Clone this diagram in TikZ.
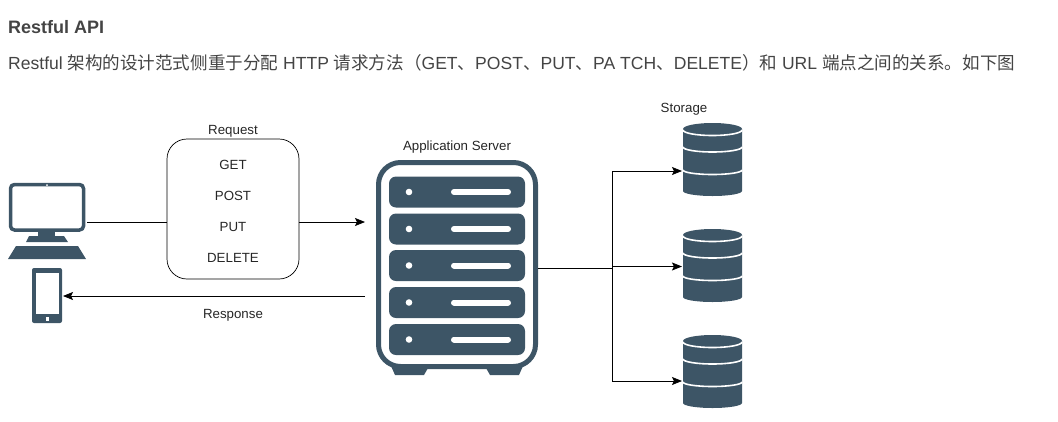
\documentclass[tikz,border=0pt]{standalone}
\usepackage{fontspec}
\setmainfont{Liberation Sans}
\newfontfamily\cjk{Noto Sans CJK SC}
\usetikzlibrary{arrows.meta, calc}
\definecolor{icon}{HTML}{3D5566}
\definecolor{bodytext}{HTML}{444444}
\tikzset{
    my-label/.style={
        font=\fontsize{13.3}{15}\selectfont, text=black!85, inner sep=0pt, yshift=-1pt
    },
    my-box/.style={
        draw, rounded corners=20pt, minimum width=132pt, minimum height=140pt, line width=.7pt
    },
    my-area/.style={
        inner sep=0pt, outer sep=1pt
    },
    my-rack/.style={
        fill=icon, rounded corners=7pt, minimum width=136pt, minimum height=31pt, inner sep=0pt
    },
    my-wire/.style={
        line width=.8pt
    },
    my-arrow/.style={
        my-wire, -{Stealth[length=10pt,width=8pt,inset=2pt]}
    },
}

\begin{document}
\begin{tikzpicture}[x=1pt,y=-1pt]

        \useasboundingbox (0,0) rectangle (1058,421);

        % HEADER
        \node[anchor=west, inner sep=0pt, text=bodytext, font=\fontsize{18}{20}\selectfont\bfseries] (TITLE) at (8,27) {Restful API};
        \node[anchor=west, inner sep=0pt, text=bodytext, font=\fontsize{17.55}{20}\selectfont] (INTRO) at (8,63)
            {Restful {\cjk 架构的设计范式侧重于分配} HTTP {\cjk 请求方法（}GET{\cjk 、}POST{\cjk 、}PUT{\cjk 、}PA TCH{\cjk 、}DELETE{\cjk ）和} URL {\cjk 端点之间的关系。如下图}};

        % CLIENT ICONS
        \node[my-area, minimum width=78pt, minimum height=76pt] (PC)    at (47,222)   {};
        \node[my-area, minimum width=30pt, minimum height=55pt] (PHONE) at (47,296)   {};
        \draw[icon, line width=3.5pt, rounded corners=4pt] (10.5,184.5) rectangle (83.5,230);
        \fill[icon] (38,231) rectangle (55,237);
        \fill[icon] (29,236) -- (64,236) -- (68,242) -- (26,242) -- cycle;
        \fill[icon] (16,246) -- (78,246) -- (86,259) -- (8,259) -- cycle;
        \fill[white] (47,185) circle (1pt);
        \fill[icon, rounded corners=2pt] (32,268) rectangle (62,323);
        \fill[white] (36,273) rectangle (59,314);
        \fill[white] (45.5,317) rectangle (49,320.5);

        % REQUEST BOX
        \node[my-box] (REQ) at (233,209) {};
        \node[my-label] (REQLABEL) at (233,130.5) {Request};
        \node[my-label] (GET)      at (233,164) {GET};
        \node[my-label] (POST)     at (233,195) {POST};
        \node[my-label] (PUT)      at (233,226) {PUT};
        \node[my-label] (DELETE)   at (233,257) {DELETE};
        \node[my-label] (RESP)     at (233,314) {Response};
        \coordinate[] (REQIN)  at ($(REQ.west) + (0,13)$);
        \coordinate[] (REQOUT) at ($(REQ.east) + (0,13)$);

        % SERVER
        \node[my-label] (SERVERLABEL) at (457,146.5) {Application Server};
        \node[draw=icon, line width=5pt, rounded corners=22pt, minimum width=157pt, minimum height=204pt, inner sep=0pt] (SERVER) at (457,264.5) {};
        \fill[icon] (391,366) -- (424,366) -- (428,368) -- (424,375) -- (395,375) -- cycle;
        \fill[icon] (523,366) -- (490,366) -- (486,368) -- (490,375) -- (519,375) -- cycle;
        \foreach \i/\y in {1/192, 2/229, 3/265.5, 4/302.5, 5/339.5} {
            \node[my-rack] (RACK\i) at (457,\y) {};
            \fill[white] (409,\y) circle (3.3pt);
            \draw[white, line width=6pt, line cap=round] (454,\y) -- (508,\y);
        }
        \coordinate[] (SERVERIN)  at (365,222);
        \coordinate[] (SERVEROUT) at (365,296);
        \coordinate[] (SERVERBUS) at (612,268);

        % STORAGE
        \node[my-label] (STORELABEL) at (684,108) {Storage};
        \foreach \i/\y in {1/123, 2/229, 3/335} {
            \node[my-area, minimum width=59pt, minimum height=73pt] (DB\i) at (712.5,\y+36.5) {};
            \begin{scope}[shift={(712.5,\y)}]
                \fill[icon] (-29.5,6) arc[x radius=29.5pt, y radius=6pt, start angle=180, end angle=0]
                    -- (29.5,68) arc[x radius=29.5pt, y radius=5pt, start angle=0, end angle=-180] -- cycle;
                \foreach \a/\b in {7/5.5, 24/5, 47/4.5} {
                    \draw[white, line width=1.6pt] (-29.5,\a) arc[x radius=29.5pt, y radius=\b pt, start angle=180, end angle=360];
                }
            \end{scope}
        }

        % CONNECTIONS
        \draw[my-wire]  (PC.east) -- (REQIN);
        \draw[my-arrow] (REQOUT) -- (SERVERIN);
        \draw[my-arrow] (SERVEROUT) -- (PHONE.east);
        \draw[my-wire]  (SERVER.east |- SERVERBUS) -- (SERVERBUS);
        \draw[my-arrow] (SERVERBUS) |- ($(DB1.west) + (0,11.5)$);
        \draw[my-arrow] (SERVERBUS) |- ($(DB2.west) + (0,1)$);
        \draw[my-arrow] (SERVERBUS) |- ($(DB3.west) + (0,9.5)$);

    \end{tikzpicture}
\end{document}
